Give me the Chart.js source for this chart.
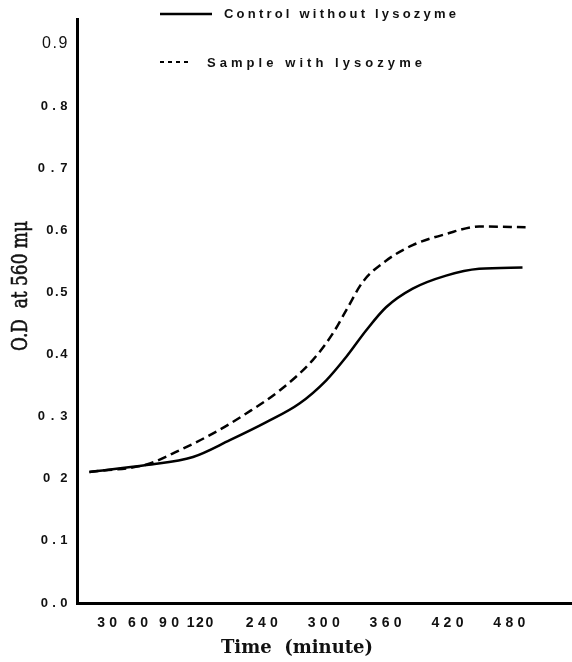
<!DOCTYPE html>
<html>
<head>
<meta charset="utf-8">
<script src="https://cdn.jsdelivr.net/npm/chart.js@4.4.1/dist/chart.umd.min.js"></script>
<style>
  html, body { margin: 0; padding: 0; background: #fff; }
  #wrap { width: 572px; height: 662px; }
</style>
</head>
<body>
<div id="wrap"><canvas id="odChart" width="572" height="662"></canvas></div>
<script>
// 横轴刻度：原图刻度间距不均匀，用位置序号放置，标签写分钟
const xTickPos = [1, 2, 3, 4, 6, 8, 10, 12, 14];
const xTickLabels = ['3\u200a0', '6\u200a0', '9\u200a0', '120', '2\u200a4\u200a0', '3\u200a0\u200a0', '3\u200a6\u200a0', '4\u200a2\u200a0', '4\u200a8\u200a0'];

// 纵轴刻度（保留原图里的写法）
const yTickValues = [0, 0.1, 0.2, 0.3, 0.4, 0.5, 0.6, 0.7, 0.8, 0.9];
const yTickLabels = ['0\u200a.\u200a0', '0\u200a.\u200a1', '0\u2009\u20092', '0\u2009.\u20093', '0.4', '0.5', '0.6', '0\u2009.\u20097', '0\u200a.\u200a8', '0.9'];

// 对照组（实线）
const controlX = [0.4, 2.25, 3.75, 4.94, 6.12, 7.19, 8.05, 8.7, 9.35, 9.99, 10.85, 11.93, 13.0, 14.4];
const controlY = [0.211, 0.222, 0.235, 0.262, 0.291, 0.321, 0.358, 0.396, 0.439, 0.476, 0.506, 0.527, 0.538, 0.540];

// 加溶菌酶样品（虚线）
const sampleX = [0.4, 2.25, 3.32, 4.4, 5.47, 6.55, 7.62, 8.27, 8.7, 9.24, 9.99, 10.85, 11.93, 13.0, 14.5];
const sampleY = [0.211, 0.223, 0.246, 0.273, 0.305, 0.342, 0.391, 0.434, 0.471, 0.517, 0.551, 0.576, 0.594, 0.606, 0.605];

function toPoints(xs, ys) {
  return xs.map((x, i) => ({ x: x, y: ys[i] }));
}

const narrowFont = '"Liberation Sans Narrow", "Liberation Sans", Arial, sans-serif';

// 手画图例和坐标轴标题
const textPlugin = {
  id: 'textPlugin',
  beforeDraw(chart) {
    chart.ctx.letterSpacing = '1.6px';
  },
  afterDraw(chart) {
    const ctx = chart.ctx;
    const ds = chart.data.datasets;
    ctx.save();
    ctx.letterSpacing = '0px';
    ctx.fillStyle = '#111';
    ctx.strokeStyle = '#000';

    // 图例第一行
    ctx.font = 'bold 13px "Liberation Sans", Arial, sans-serif';
    ctx.lineWidth = 2.5;
    ctx.beginPath();
    ctx.moveTo(160, 14);
    ctx.lineTo(212, 14);
    ctx.stroke();
    let w = ctx.measureText(ds[0].label).width;
    ctx.letterSpacing = ((232 - w) / (ds[0].label.length - 1)) + 'px';
    ctx.fillText(ds[0].label, 224, 18);

    // 图例第二行
    ctx.letterSpacing = '0px';
    ctx.lineWidth = 2;
    ctx.setLineDash([4, 4]);
    ctx.beginPath();
    ctx.moveTo(160, 62);
    ctx.lineTo(191, 62);
    ctx.stroke();
    ctx.setLineDash([]);
    w = ctx.measureText(ds[1].label).width;
    ctx.letterSpacing = ((215 - w) / (ds[1].label.length - 1)) + 'px';
    ctx.fillText(ds[1].label, 207, 67);

    // 横轴标题
    ctx.letterSpacing = '0px';
    ctx.font = 'bold 18px "DejaVu Serif", serif';
    ctx.textAlign = 'center';
    ctx.fillText('Time  (minute)', 297, 653);

    // 纵轴标题（字形偏窄，横向压缩，加一点描边让笔画粗些）
    ctx.font = '22px "DejaVu Serif", serif';
    const title = 'O.D  at 560 m\u03bc';
    w = ctx.measureText(title).width;
    ctx.translate(27, 286);
    ctx.rotate(-Math.PI / 2);
    ctx.scale(130 / w, 1);
    ctx.fillText(title, 0, 0);
    ctx.lineWidth = 0.6;
    ctx.strokeStyle = '#111';
    ctx.strokeText(title, 0, 0);
    ctx.restore();
  }
};

const ctx = document.getElementById('odChart').getContext('2d');
new Chart(ctx, {
  type: 'line',
  data: {
    datasets: [
      {
        label: 'Control without lysozyme',
        data: toPoints(controlX, controlY),
        borderColor: '#000',
        borderWidth: 2.5,
        pointRadius: 0,
        cubicInterpolationMode: 'monotone',
        fill: false
      },
      {
        label: 'Sample with lysozyme',
        data: toPoints(sampleX, sampleY),
        borderColor: '#000',
        borderWidth: 2.5,
        borderDash: [9, 5],
        pointRadius: 0,
        cubicInterpolationMode: 'monotone',
        fill: false
      }
    ]
  },
  options: {
    responsive: false,
    animation: false,
    layout: { padding: { top: 19, right: 0, bottom: 0, left: 0 } },
    plugins: {
      legend: { display: false },
      tooltip: { enabled: false }
    },
    scales: {
      x: {
        type: 'linear',
        min: 0,
        max: 16,
        afterBuildTicks: s => { s.ticks = xTickPos.map(v => ({ value: v })); },
        afterFit: s => { s.height = 59; },
        grid: { display: false, drawTicks: false },
        border: { display: true, color: '#000', width: 3 },
        ticks: {
          autoSkip: false,
          maxRotation: 0,
          padding: 12,
          color: '#111',
          font: { family: narrowFont, size: 14, weight: 'bold' },
          callback: (v, i) => xTickLabels[i]
        }
      },
      y: {
        type: 'linear',
        min: 0,
        max: 0.94,
        afterBuildTicks: s => { s.ticks = yTickValues.map(v => ({ value: v })); },
        afterFit: s => { s.width = 77; },
        grid: { display: false, drawTicks: false },
        border: { display: true, color: '#000', width: 3 },
        ticks: {
          padding: 8,
          color: '#111',
          font: c => c.index === 9
            ? { family: '"Liberation Sans", Arial, sans-serif', size: 16, weight: 'normal' }
            : { family: narrowFont, size: 13, weight: 'bold' },
          callback: (v, i) => yTickLabels[i]
        }
      }
    }
  },
  plugins: [textPlugin]
});
</script>
</body>
</html>
